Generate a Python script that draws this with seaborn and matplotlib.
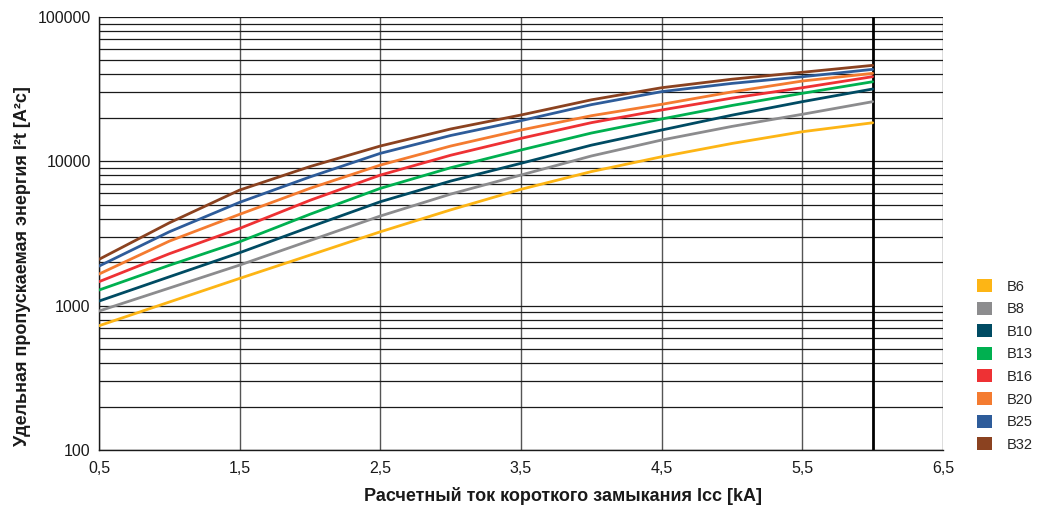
import matplotlib
matplotlib.use("Agg")
import matplotlib.pyplot as plt
import matplotlib.ticker as mticker
from matplotlib.patches import Patch
import numpy as np
import pandas as pd
import seaborn as sns

# ---- data ----
current_ka = [0.5, 1.0, 1.5, 2.0, 2.5, 3.0, 3.5, 4.0, 4.5, 5.0, 5.5, 6.0]
b6  = [726, 1060, 1545, 2240, 3250, 4610, 6400, 8490, 10760, 13300, 16040, 18500]
b8  = [918, 1324, 1911, 2825, 4180, 5930, 8040, 10890, 14050, 17460, 21180, 25900]
b10 = [1076, 1585, 2328, 3510, 5250, 7300, 9690, 12940, 16480, 20890, 25900, 31700]
b13 = [1283, 1905, 2773, 4300, 6500, 9030, 11980, 15700, 19650, 24380, 29600, 35600]
b16 = [1466, 2290, 3430, 5370, 8030, 11020, 14430, 18530, 22690, 27420, 32360, 38600]
b20 = [1656, 2800, 4295, 6500, 9420, 12760, 16480, 20700, 24830, 30270, 36000, 40700]
b25 = [1880, 3250, 5200, 7800, 11360, 15100, 19130, 24700, 30400, 34670, 38560, 43370]
b32 = [2094, 3750, 6325, 9200, 12770, 16750, 20940, 26670, 32360, 37070, 41400, 46240]

series_names = ["B6", "B8", "B10", "B13", "B16", "B20", "B25", "B32"]
series_values = [b6, b8, b10, b13, b16, b20, b25, b32]
colors = ["#FDB515", "#8C8C8E", "#004B63", "#00B050", "#EE3134",
          "#F47B30", "#2E5C9A", "#8B4220"]

x_ticks = [0.5, 1.5, 2.5, 3.5, 4.5, 5.5, 6.5]
x_tick_labels = ["0,5", "1,5", "2,5", "3,5", "4,5", "5,5", "6,5"]
y_ticks = [100, 1000, 10000, 100000]
y_tick_labels = ["100", "1000", "10000", "100000"]

rows = []
for name, vals in zip(series_names, series_values):
    for x, v in zip(current_ka, vals):
        rows.append({"Icc": x, "I2t": v, "Тип": name})
df = pd.DataFrame(rows)

sns.set_style("white")
plt.rcParams["font.family"] = ["Liberation Sans", "DejaVu Sans"]

fig = plt.figure(figsize=(10.4, 5.09), dpi=100)
ax = fig.add_axes([0.0952, 0.1159, 0.9067 - 0.0952, 0.9666 - 0.1159])

sns.lineplot(data=df, x="Icc", y="I2t", hue="Тип", hue_order=series_names,
             palette=colors, linewidth=2.0, legend=False, ax=ax, zorder=3)

ax.set_yscale("log")
ax.set_ylim(100, 100000)
ax.set_xlim(0.5, 6.5)
ax.set_xticks(x_ticks)
ax.set_xticklabels(x_tick_labels)
ax.set_yticks(y_ticks)
ax.set_yticklabels(y_tick_labels)
ax.yaxis.set_minor_locator(mticker.LogLocator(base=10, subs=np.arange(2, 10)))
ax.yaxis.set_minor_formatter(mticker.NullFormatter())

ax.set_axisbelow(True)
ax.grid(axis="y", which="both", color="#1a1a1a", linewidth=0.9)
ax.grid(axis="x", which="major", color="#555555", linewidth=1.0)
ax.axvline(6.0, color="black", linewidth=2.0, zorder=2)

ax.tick_params(axis="both", which="both", length=0, labelsize=11.5, colors="#1a1a1a")
ax.tick_params(axis="x", pad=8)
ax.tick_params(axis="y", pad=6)
for side in ["top", "right"]:
    ax.spines[side].set_visible(False)
for side in ["left", "bottom"]:
    ax.spines[side].set_color("#1a1a1a")
    ax.spines[side].set_linewidth(1.0)

ax.set_xlabel("Расчетный ток короткого замыкания Icc [kA]", fontsize=13,
              color="#1a1a1a", fontweight="bold")
ax.set_ylabel("Удельная пропускаемая энергия I²t [A²c]", fontsize=13,
              color="#1a1a1a", fontweight="bold")
ax.xaxis.set_label_coords(0.55, -0.085)
ax.yaxis.set_label_coords(-0.08, 0.425)

handles = [Patch(facecolor=c, edgecolor="none", label=n)
           for n, c in zip(series_names, colors)]
fig.legend(handles=handles, loc="lower left", bbox_to_anchor=(0.927, 0.087),
           frameon=False, handlelength=1.0, handleheight=1.0,
           handletextpad=1.0, labelspacing=0.55, fontsize=10.5)

fig.savefig("out.png", dpi=100)
